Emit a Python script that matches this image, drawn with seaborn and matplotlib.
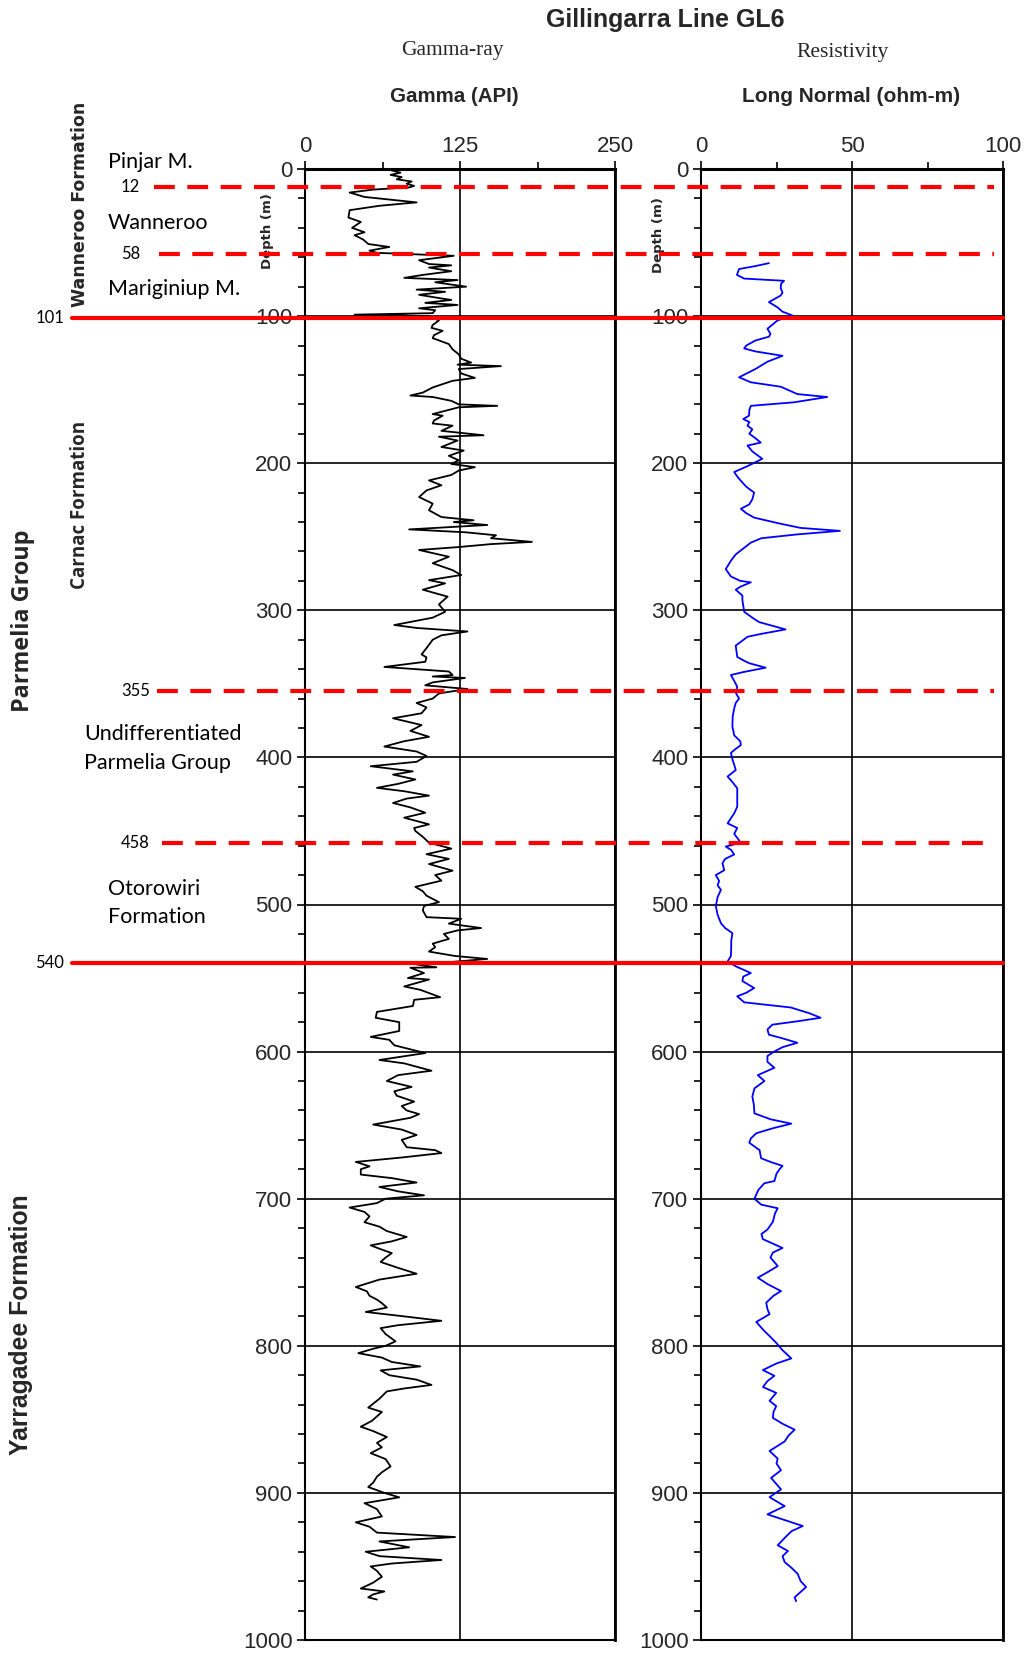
import numpy as np
import pandas as pd
import matplotlib
matplotlib.use("Agg")
import matplotlib.pyplot as plt
import matplotlib.transforms as mtransforms
from matplotlib.lines import Line2D
from matplotlib.ticker import MultipleLocator, FixedLocator
import seaborn as sns

# -----------------------------
# Data (depth in m)
# -----------------------------
gamma_depth = [1, 2.5, 4, 5.5, 7, 8.5, 10, 11.5, 12.5, 14, 16, 19, 22.7, 25, 28, 33, 36, 40, 43, 45,
               48, 51, 53, 55.5, 57, 59, 62, 64.6, 65.5, 67, 69.5, 72, 74, 75.5, 77, 80, 82, 83.5, 85.5, 88,
               89, 91, 92.4, 94.7, 96, 98, 99, 100, 103, 106, 108, 110, 113, 115, 119, 122.6, 126, 129, 131.6, 133,
               134, 136, 139, 142, 144, 148.5, 152, 154, 155, 157.6, 160, 161, 162, 166.6, 167.7, 171, 173, 174.5, 178, 181,
               182, 184.6, 189, 191.4, 195, 198, 200.5, 202.7, 205, 208, 211.7, 215, 218.5, 223, 227.5, 232, 236.6, 238.8, 240, 242,
               245, 247, 249, 251, 253.5, 255, 257, 259, 263.6, 268, 272.7, 276, 279.5, 281.7, 286, 290.7, 296, 301, 305, 310,
               312, 314.4, 317, 320, 325.7, 330, 332, 335, 338.5, 341.6, 344, 345, 346, 349, 351, 353.5, 356.5, 360, 363, 366,
               370, 373.4, 378, 382, 386, 389, 392.6, 396, 399, 403, 406, 409.5, 411.7, 415, 418, 420.7, 423, 426, 428, 431,
               434, 437.6, 441, 445.5, 448, 450, 454, 458, 462, 465.8, 469, 472.5, 477, 480, 483.8, 488, 491, 494, 498.4, 501,
               504, 508.6, 509.7, 513, 516, 517.6, 520, 523.4, 526.6, 529, 532, 535, 537, 539, 540, 542.7, 543, 546.6, 550, 551,
               555.7, 558, 563, 564.8, 569, 573, 577, 580, 586, 590, 592, 595.7, 601, 605.7, 608, 613, 616, 620, 624, 627,
               630, 634, 637, 640, 642.5, 645, 649.6, 653, 656.7, 660, 665, 667, 669, 672, 675, 678, 680, 683.6, 686, 689,
               692, 695, 697.7, 700, 703, 706, 709, 712, 716, 719, 722, 726, 729, 731.7, 734, 737, 740, 743, 747, 751,
               755, 760, 763, 766, 768.6, 771, 774, 777, 780, 783, 786, 788, 792, 797, 800, 802, 805, 808, 811, 814,
               816.7, 820, 823, 826.6, 829, 831, 836, 842, 845, 848, 851, 855, 858, 862, 866, 869, 873, 877, 882, 886,
               889, 893, 896, 900, 903, 907, 911, 916, 920, 923, 927, 930, 933, 937, 940, 943, 945.6, 948, 950, 953,
               957, 961, 965, 967, 969, 971, 972.5]
gamma_api = [70, 77, 69, 78, 74, 86, 82, 88, 84, 55, 36, 48, 90, 60, 36, 35, 45, 38, 48, 40,
             47, 51, 68, 52, 58, 120, 92, 100, 118, 100, 118, 95, 80, 123, 105, 130, 90, 113, 92, 110,
             118, 97, 123, 92, 105, 103, 40, 100, 108, 103, 102, 111, 104, 103, 116, 119, 124, 126, 134, 123,
             158, 124, 126, 137, 119, 103, 95, 85, 103, 118, 124, 155, 124, 103, 111, 104, 103, 119, 110, 144,
             108, 123, 110, 128, 116, 124, 118, 137, 124, 118, 100, 110, 98, 92, 103, 100, 110, 136, 120, 147,
             84, 130, 154, 150, 183, 150, 124, 92, 116, 103, 119, 126, 100, 113, 95, 115, 108, 113, 103, 72,
             90, 131, 110, 103, 98, 94, 98, 97, 64, 116, 119, 103, 129, 103, 97, 131, 108, 103, 90, 98,
             94, 71, 94, 85, 100, 80, 64, 90, 98, 90, 53, 87, 71, 89, 75, 58, 80, 100, 82, 71,
             85, 97, 80, 100, 88, 89, 95, 100, 118, 98, 116, 100, 119, 105, 110, 89, 95, 98, 108, 96,
             95, 98, 126, 116, 142, 123, 112, 116, 103, 105, 100, 121, 147, 119, 84, 106, 85, 96, 83, 100,
             80, 93, 109, 88, 87, 58, 57, 76, 76, 53, 68, 72, 97, 60, 80, 102, 75, 66, 86, 72,
             74, 88, 78, 82, 92, 85, 55, 78, 90, 78, 82, 105, 110, 78, 41, 52, 45, 45, 70, 90,
             60, 75, 96, 65, 58, 36, 48, 52, 48, 60, 66, 82, 70, 53, 60, 70, 65, 61, 75, 90,
             60, 41, 50, 52, 58, 62, 66, 49, 80, 110, 75, 61, 65, 73, 65, 55, 43, 62, 70, 93,
             61, 68, 90, 102, 80, 66, 60, 51, 62, 58, 54, 45, 55, 66, 58, 62, 53, 65, 69, 62,
             58, 55, 51, 64, 76, 48, 58, 62, 41, 52, 58, 121, 60, 84, 49, 60, 110, 70, 53, 58,
             62, 55, 45, 64, 55, 51, 58]

res_depth = [64, 66, 68, 72, 74.5, 76, 78, 81, 84, 86, 90.5, 94, 97, 99.5, 101, 103, 108.6, 112, 114, 116.6,
             120, 122, 124, 127, 131, 136, 141.6, 145, 148, 153, 155, 158.6, 161, 164, 167.7, 170, 172, 174.5, 177, 180,
             183, 186, 188, 192, 197, 202, 206, 209, 212, 216, 220, 224.5, 228, 231, 234, 237, 241, 244, 246, 248.4,
             251, 254, 258, 262, 266, 272, 277, 280, 281, 284, 286, 290, 293, 297, 301, 305, 308, 313, 316, 318,
             324, 331.7, 334, 336, 339, 342, 344, 348, 352, 356, 360, 363, 366.7, 372, 379, 385, 389, 391.6, 395, 397,
             402, 405, 408.6, 413, 417, 421, 427, 433.5, 438, 444.8, 448, 452, 458, 460.6, 463, 466, 469, 472, 476.7, 480,
             484, 487, 490, 495, 501, 507, 512.7, 516, 519.5, 525, 530, 535, 538.7, 542, 546.6, 549, 552, 556.8, 560, 562.4,
             566.5, 570, 574, 577, 579.4, 581.7, 585, 588.5, 591, 594, 597, 600, 603, 605, 607, 611, 616, 620, 625, 630.6,
             636, 642, 646, 649, 652, 655.5, 659, 662, 667, 672.5, 675, 677.7, 680, 683, 688, 689.5, 694, 700, 704, 706.5,
             710, 715.7, 721, 724, 727.5, 733.5, 736.6, 740, 745.8, 750, 753.7, 758, 762.8, 766, 770.7, 775, 778.5, 783.8, 790, 794,
             798, 803, 808.6, 812, 816.5, 820.4, 824, 828, 832, 837.4, 841, 845, 849, 853, 857, 861, 865, 871.5, 876.7, 880,
             884.6, 889.8, 894, 897.6, 902.9, 909, 914.6, 918, 922.5, 926, 930, 935.6, 939.5, 943, 947, 951, 955, 960, 964, 968,
             971, 973.6]
res_ohm = [22.5, 18, 12.6, 11.9, 14.3, 27.5, 26.5, 26.4, 27, 26.4, 22.5, 25.3, 27, 30.2, 28, 25.3, 22, 23, 22.5, 18,
           15, 14.3, 18, 27, 22, 18, 12.6, 16.5, 26.4, 31.9, 41.8, 30.8, 16.5, 16, 15.9, 14, 16, 15.4, 17, 16,
           18, 19.8, 15.4, 17, 20.3, 15.4, 11, 12, 13.2, 15, 17.6, 17, 16, 13.2, 15, 17.6, 26, 33, 46, 31.9,
           20, 16.5, 14, 11.5, 10, 8.2, 9.9, 13, 16.5, 13, 11.5, 13.7, 13.7, 14, 14.3, 17, 19.2, 28, 20, 15.4,
           11.5, 12, 14, 16, 21.4, 14, 9.9, 11, 12, 11.5, 12.6, 11.5, 11, 10.5, 10.4, 11, 13, 13.2, 11, 9.9,
           10.5, 11, 11.5, 8.8, 10.5, 12, 12, 12, 11, 8.8, 12, 11, 13.2, 8.2, 10, 11, 8, 7.1, 7.7, 4.9,
           6, 5.5, 6.6, 5.5, 4.9, 5.5, 6.6, 8, 10.4, 10, 10, 9.9, 8.8, 11.5, 16.5, 14, 13.7, 17.6, 15, 12,
           14.3, 29.7, 36, 39.6, 31.9, 23.6, 22, 22.5, 27, 31.9, 27, 24.2, 22, 22, 22, 24.3, 18.8, 21, 17.7, 17,
           17.5, 17.7, 23, 29.9, 24, 18.3, 16.5, 16, 19.4, 19.9, 23, 27, 26, 25, 24.3, 21, 19, 17.7, 19.9, 25.4,
           24.5, 23.8, 22, 20, 20.5, 27, 23.8, 23, 25.4, 22, 18.8, 22, 26.5, 24, 21.6, 22, 22.7, 18.3, 21, 23,
           24.9, 27, 29.9, 25, 20.5, 24.3, 22, 20.5, 24.9, 22.7, 24.9, 24, 23.8, 27, 31, 29, 27.7, 22.7, 25.4, 25,
           26.5, 23.2, 25, 26.5, 22.7, 27.7, 22, 27, 33.7, 30, 28, 25.4, 28.8, 27, 27.7, 30, 32, 33, 34.8, 32.6,
           31, 31.5]

# formation boundaries
dashed_tops = [12, 58, 355, 458]
solid_tops = [101, 540]

gamma_df = pd.DataFrame({"depth": gamma_depth, "gamma": gamma_api})
res_df = pd.DataFrame({"depth": res_depth, "res": res_ohm})

# -----------------------------
# Figure setup
# -----------------------------
sns.set_style("ticks")
plt.rcParams['font.family'] = ['Liberation Sans', 'DejaVu Sans']

W, H = 1028, 1655
fig = plt.figure(figsize=(W / 100, H / 100), dpi=100)

def fx(px):
    return px / W

def fy(py):
    return 1 - py / H

top_px, bot_px = 169, 1640
ax_g = fig.add_axes([fx(305), fy(bot_px), fx(615) - fx(305), fy(top_px) - fy(bot_px)])
ax_r = fig.add_axes([fx(701), fy(bot_px), fx(1003) - fx(701), fy(top_px) - fy(bot_px)])

sns.lineplot(data=gamma_df, x="gamma", y="depth", sort=False, estimator=None,
             color="black", lw=1.3, ax=ax_g)
sns.lineplot(data=res_df, x="res", y="depth", sort=False, estimator=None,
             color="#0000ff", lw=1.3, ax=ax_r)

def style_axis(ax, xmax, xmajor, xminor, lab_x, lab_y):
    ax.set_xlim(0, xmax)
    ax.set_ylim(1000, 0)
    ax.xaxis.tick_top()
    ax.xaxis.set_major_locator(FixedLocator(xmajor))
    ax.xaxis.set_minor_locator(FixedLocator(xminor))
    ax.yaxis.set_major_locator(MultipleLocator(100))
    ax.yaxis.set_minor_locator(MultipleLocator(20))
    ax.tick_params(which="both", direction="out", color="black", width=1.2)
    ax.tick_params(which="major", length=6, labelsize=16, pad=3)
    ax.tick_params(which="minor", length=5)
    ax.tick_params(axis="x", which="both", top=True, bottom=False)
    ax.grid(True, which="major", color="black", lw=1.2)
    ax.set_xlabel("")
    ax.set_ylabel("Depth (m)", fontsize=9.5, fontweight="bold", family="DejaVu Sans")
    ax.yaxis.set_label_coords(lab_x, lab_y)
    for s in ax.spines.values():
        s.set_color("black")
        s.set_linewidth(1.5)
    ax.spines["top"].set_linewidth(2.2)
    ax.spines["right"].set_linewidth(2)
    ax.set_facecolor("white")

style_axis(ax_g, 250, [0, 125, 250], [62.5, 187.5], -0.10, 0.958)
style_axis(ax_r, 100, [0, 50, 100], [25, 75], -0.12, 0.955)

# -----------------------------
# Formation tops (red lines), y in depth units
# -----------------------------
trans = mtransforms.blended_transform_factory(fig.transFigure, ax_g.transData)
dash_start = {12: 154, 58: 159, 355: 157, 458: 162}
for d in dashed_tops:
    fig.add_artist(Line2D([fx(dash_start[d]), fx(994)], [d, d], transform=trans,
                          color="#ff0000", lw=3, dashes=(5, 3), zorder=5))
for d in solid_tops:
    fig.add_artist(Line2D([fx(72), fx(1003)], [d, d], transform=trans,
                          color="#ff0000", lw=3, zorder=5))

lab_font = dict(family=["Lato", "DejaVu Sans"], color="black")
fig.text(fx(140), 12, "12", transform=trans, ha="right", va="center", fontsize=12, **lab_font)
fig.text(fx(140), 58, "58", transform=trans, ha="right", va="center", fontsize=12, **lab_font)
fig.text(fx(150), 355, "355", transform=trans, ha="right", va="center", fontsize=12, **lab_font)
fig.text(fx(150), 458, "458", transform=trans, ha="right", va="center", fontsize=12, **lab_font)
fig.text(fx(64), 101, "101", transform=trans, ha="right", va="center", fontsize=12, **lab_font)
fig.text(fx(64), 540, "540", transform=trans, ha="right", va="center", fontsize=12, **lab_font)

# unit names
fig.text(fx(108), fy(162), "Pinjar M.", ha="left", va="center", fontsize=15.5, **lab_font)
fig.text(fx(108), fy(223), "Wanneroo", ha="left", va="center", fontsize=15.5, **lab_font)
fig.text(fx(108), fy(289), "Mariginiup M.", ha="left", va="center", fontsize=15.5, **lab_font)
fig.text(fx(84), fy(734), "Undifferentiated", ha="left", va="center", fontsize=15.5, **lab_font)
fig.text(fx(84), fy(763), "Parmelia Group", ha="left", va="center", fontsize=15.5, **lab_font)
fig.text(fx(108), fy(889), "Otorowiri", ha="left", va="center", fontsize=15.5, **lab_font)
fig.text(fx(108), fy(917), "Formation", ha="left", va="center", fontsize=15.5, **lab_font)

fig.text(fx(80), fy(204), "Wanneroo Formation", rotation=90, ha="center", va="center",
         fontsize=12.5, fontweight="bold", family="DejaVu Sans")
fig.text(fx(80), fy(505), "Carnac Formation", rotation=90, ha="center", va="center",
         fontsize=13.5, fontweight="bold", family="Open Sans")
fig.text(fx(23), fy(621), "Parmelia Group", rotation=90, ha="center", va="center",
         fontsize=16.8, fontweight="bold", family="Open Sans")
fig.text(fx(21), fy(1325), "Yarragadee Formation", rotation=90, ha="center", va="center",
         fontsize=17.8, fontweight="bold")

# headers
fig.text(fx(665), fy(20), "Gillingarra Line GL6", ha="center", va="center",
         fontsize=18, fontweight="bold")
fig.text(fx(452), fy(51), "Gamma-ray", ha="center", va="center", fontsize=15.5,
         family="Liberation Serif")
fig.text(fx(843), fy(52), "Resistivity", ha="center", va="center", fontsize=15.5,
         family="Liberation Serif")
fig.text(fx(454), fy(96), "Gamma (API)", ha="center", va="center", fontsize=14.8, fontweight="bold")
fig.text(fx(851), fy(96), "Long Normal (ohm-m)", ha="center", va="center", fontsize=15,
         fontweight="bold")

fig.savefig("out.png", dpi=100, facecolor="white")
